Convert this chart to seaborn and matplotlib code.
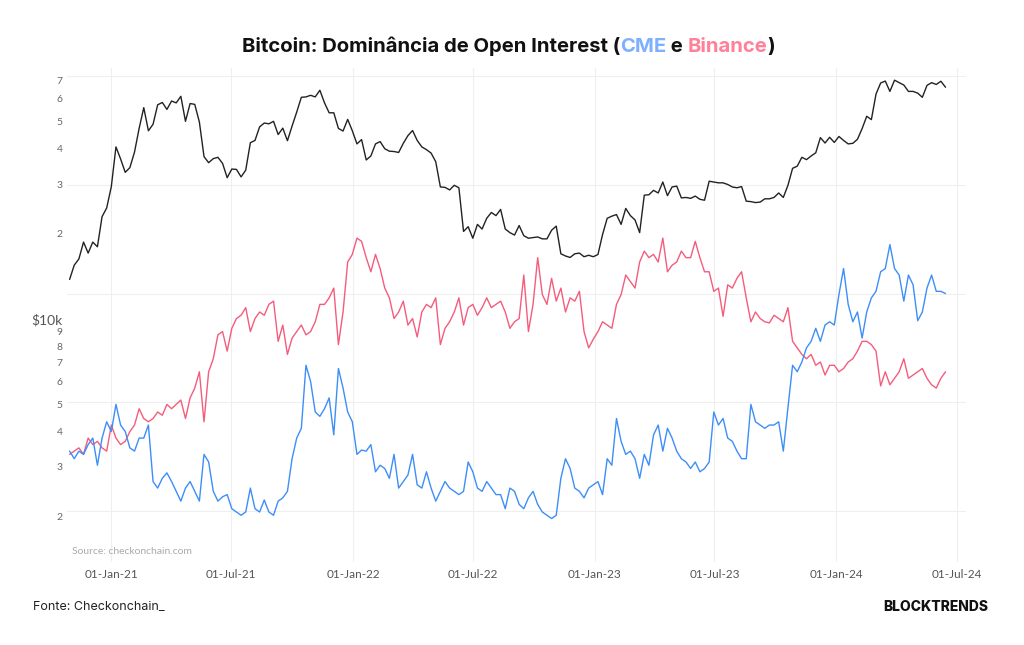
import pandas as pd
import numpy as np
import seaborn as sns
import matplotlib.pyplot as plt
import matplotlib.dates as mdates

# semanal, a partir de 30-Oct-2020
datas = pd.date_range('2020-10-30', periods=190, freq='7D')

# preco do BTC em USD
preco_btc = [
    13800, 15500, 16300, 18700, 17100, 18700, 18000, 23000, 24700, 29400,
    40600, 36800, 33000, 34300, 38900, 47200, 55900, 46300, 48800, 57200,
    58300, 55100, 59000, 58100, 61300, 50000, 57800, 57400, 49700, 37500,
    35700, 36900, 37300, 35500, 31600, 33900, 33800, 31800, 33600, 42000,
    42800, 47800, 49300, 49000, 50000, 44900, 47300, 42700, 48100, 53900,
    60800, 61000, 61800, 61000, 64400, 58100, 53600, 53600, 47200, 46200,
    50800, 46300, 41600, 43100, 36500, 37700, 41600, 42400, 40000, 39200,
    39100, 38800, 41800, 44500, 46400, 42800, 40600, 39700, 38600, 36000,
    29300, 29200, 28600, 29700, 29100, 20400, 21200, 19300, 21600, 20800,
    22700, 23800, 23200, 24400, 20800, 20200, 19800, 21400, 19700, 19300,
    19400, 19500, 19200, 19200, 20600, 21300, 17000, 16700, 16500, 17000,
    17100, 16600, 16800, 16600, 16900, 19900, 22700, 23100, 23400, 21600,
    24600, 23200, 22400, 20200, 27400, 27500, 28500, 27900, 30500, 27300,
    29300, 29500, 26800, 26900, 26700, 27200, 26500, 26300, 30700, 30500,
    30300, 30300, 29900, 29300, 29100, 29400, 26100, 26000, 25800, 25900,
    26600, 26600, 26900, 27900, 26900, 29700, 34100, 34700, 37300, 36600,
    37700, 38700, 43800, 41900, 43900, 42100, 44200, 42800, 41600, 41800,
    43200, 47100, 52100, 50700, 62400, 68300, 69400, 63800, 69900, 68500,
    67200, 63800, 63800, 62900, 60800, 67000, 68500, 67500, 69300, 66000,
]

# dominancia de open interest (%)
dom_cme = [
    15.5, 14.8, 15.5, 15.2, 16.1, 16.7, 14.2, 16.7, 18.2, 17.3,
    19.8, 17.9, 17.3, 15.8, 15.5, 16.7, 16.7, 17.9, 12.7, 12.1,
    13.0, 13.5, 12.7, 11.8, 10.9, 12.1, 12.7, 11.8, 10.9, 15.2,
    14.5, 11.8, 10.9, 11.3, 11.5, 10.2, 9.9, 9.6, 9.9, 12.1,
    10.2, 9.9, 11.0, 9.9, 9.6, 10.9, 11.2, 11.8, 14.8, 16.7,
    17.6, 23.4, 21.9, 19.1, 18.7, 19.4, 20.4, 17.0, 23.1, 21.3,
    19.1, 18.2, 15.2, 15.6, 15.5, 16.1, 13.6, 14.2, 13.9, 13.0,
    15.2, 12.1, 12.7, 13.3, 15.2, 12.4, 12.1, 13.6, 12.1, 10.9,
    11.8, 12.7, 12.1, 11.8, 11.5, 11.8, 14.5, 13.6, 12.1, 11.8,
    12.7, 12.1, 11.5, 11.5, 10.2, 12.1, 11.8, 10.6, 10.2, 11.2,
    11.8, 10.6, 9.9, 9.6, 9.3, 9.6, 13.0, 14.8, 13.9, 12.1,
    11.8, 11.2, 12.1, 12.4, 12.7, 11.5, 14.8, 14.2, 18.5, 16.4,
    15.2, 15.5, 14.8, 13.0, 15.2, 14.2, 17.0, 17.9, 15.5, 17.6,
    16.7, 15.5, 14.8, 14.5, 13.9, 14.5, 13.6, 13.9, 14.5, 19.1,
    17.9, 18.5, 16.7, 16.4, 15.5, 14.8, 14.8, 19.8, 18.2, 17.9,
    17.6, 17.9, 17.9, 18.2, 15.5, 19.5, 23.4, 22.8, 23.7, 25.0,
    25.6, 26.8, 25.6, 27.1, 27.4, 27.1, 29.9, 32.3, 29.0, 27.4,
    28.3, 25.9, 28.3, 29.6, 30.2, 32.0, 32.3, 34.5, 32.3, 31.7,
    29.3, 31.7, 30.8, 27.5, 28.3, 30.5, 31.7, 30.2, 30.2, 30.0,
]

dom_binance = [
    15.2, 15.5, 15.8, 15.2, 16.7, 16.1, 16.4, 15.8, 15.5, 17.9,
    16.7, 16.1, 16.4, 17.3, 17.9, 19.4, 18.5, 18.2, 18.5, 19.1,
    18.8, 19.8, 19.4, 19.8, 20.2, 18.5, 20.4, 21.3, 22.8, 18.2,
    22.8, 24.0, 26.2, 26.5, 24.7, 26.8, 27.7, 28.0, 28.7, 26.5,
    27.7, 28.3, 28.0, 29.0, 29.3, 25.6, 27.1, 24.4, 25.9, 26.5,
    27.1, 26.2, 26.5, 27.4, 29.0, 29.0, 29.6, 30.5, 25.3, 28.3,
    32.9, 33.6, 35.1, 34.8, 33.3, 32.0, 33.6, 32.3, 30.5, 29.6,
    27.7, 28.3, 29.3, 27.1, 27.7, 26.0, 28.3, 29.0, 28.7, 29.6,
    25.3, 26.8, 27.4, 28.3, 29.6, 27.1, 28.7, 29.0, 28.0, 28.7,
    29.6, 28.7, 29.0, 29.3, 28.3, 26.8, 27.4, 27.7, 31.7, 26.5,
    29.0, 33.3, 29.9, 29.0, 31.4, 29.3, 30.5, 28.3, 29.6, 29.3,
    30.2, 26.5, 25.0, 25.8, 26.5, 27.4, 27.1, 26.8, 29.0, 29.9,
    31.7, 31.1, 30.5, 32.9, 33.9, 33.3, 33.6, 32.9, 35.1, 32.0,
    32.6, 32.9, 33.9, 33.3, 33.3, 34.8, 33.3, 32.0, 32.0, 30.2,
    30.5, 27.9, 30.8, 30.5, 31.4, 32.0, 29.6, 27.4, 28.3, 27.7,
    27.4, 27.3, 28.0, 27.7, 27.4, 28.7, 25.6, 25.0, 24.4, 24.0,
    24.4, 23.4, 23.7, 22.5, 23.4, 23.4, 22.8, 23.1, 23.7, 24.0,
    24.7, 25.6, 25.6, 25.3, 24.7, 21.5, 22.8, 21.6, 22.2, 22.8,
    24.0, 22.2, 22.5, 22.8, 23.1, 22.2, 21.6, 21.3, 22.2, 22.8,
]

# eixo de preco (log)
ticks_preco = [2000, 3000, 4000, 5000, 6000, 7000, 8000, 9000,
               10000, 20000, 30000, 40000, 50000, 60000, 70000]
labels_preco = ['2', '3', '4', '5', '6', '7', '8', '9',
                '$10k', '2', '3', '4', '5', '6', '7']

titulo = ['Bitcoin: Dominância de Open Interest (', 'CME', ' e ', 'Binance', ')']
cores_titulo = ['#111111', '#7fb0ff', '#111111', '#ff8099', '#111111']

cor_cme = '#3d8ef8'
cor_binance = '#f45c7c'
cor_preco = '#222222'

df = pd.DataFrame({'data': datas, 'preco': preco_btc,
                   'cme': dom_cme, 'binance': dom_binance})

sns.set_theme(style='white')
plt.rcParams['font.family'] = ['Lato', 'DejaVu Sans']

fig = plt.figure(figsize=(10.24, 6.45), dpi=100)
ax = fig.add_axes([0.0654, 0.1287, 0.878, 0.7659])

# dominancia no eixo principal (sem labels), grid horizontal vem dele
sns.lineplot(data=df, x='data', y='binance', ax=ax, color=cor_binance, linewidth=1.0)
sns.lineplot(data=df, x='data', y='cme', ax=ax, color=cor_cme, linewidth=1.0)
ax.set_ylim(5.3, 50.75)
ax.set_yticks([10, 20, 30, 40, 50])
ax.grid(True, color='#efefef', linewidth=0.8)
ax.set_xlabel('')
ax.set_ylabel('')

ax.set_xlim(pd.Timestamp('2020-10-26'), pd.Timestamp('2024-07-15'))
ax.xaxis.set_major_locator(mdates.MonthLocator(bymonth=[1, 7]))
ax.xaxis.set_major_formatter(mdates.DateFormatter('%d-%b-%y'))
ax.tick_params(axis='x', length=0, pad=5, labelsize=8.5, labelcolor='#555555')

# preco no eixo gemeo, labels na esquerda
pax = ax.twinx()
sns.lineplot(data=df, x='data', y='preco', ax=pax, color=cor_preco, linewidth=1.0)
pax.set_yscale('log')
pax.set_ylim(1382, 77200)
pax.yaxis.tick_left()
pax.set_yticks(ticks_preco)
pax.set_yticklabels(labels_preco)
pax.yaxis.set_minor_locator(plt.NullLocator())
pax.tick_params(axis='y', length=0, pad=3, labelsize=7.5, labelcolor='#666666')
for lbl in pax.get_yticklabels():
    if lbl.get_text() == '$10k':
        lbl.set_fontsize(10)
        lbl.set_color('#555555')
pax.set_ylabel('')
pax.grid(False)

# twinx liga de novo os ticks do eixo principal
ax.tick_params(axis='y', left=False, labelleft=False, right=False, labelright=False, length=0)

for a in (ax, pax):
    for s in a.spines.values():
        s.set_visible(False)

ax.text(0.006, 0.012, 'Source: checkonchain.com', transform=ax.transAxes,
        fontsize=7.5, color='#aaaaaa', va='bottom')

# titulo em partes coloridas
t = fig.text(0.236, 0.920, titulo[0], fontsize=14.6, fontweight='bold',
             family=['Inter', 'DejaVu Sans'], color=cores_titulo[0], va='baseline')
for parte, cor in zip(titulo[1:], cores_titulo[1:]):
    t = ax.annotate(parte, xy=(1, 0), xycoords=t, va='bottom', ha='left',
                    fontsize=14.6, fontweight='bold', family=['Inter', 'DejaVu Sans'],
                    color=cor, annotation_clip=False)

fig.text(0.032, 0.059, 'Fonte: Checkonchain_', fontsize=9,
         family=['Inter', 'DejaVu Sans'], color='#222222', va='center')
fig.text(0.965, 0.059, 'BLOCKTRENDS', fontsize=10, fontweight='heavy',
         family=['Inter', 'DejaVu Sans'], color='#111111', va='center', ha='right')

fig.savefig('out.png', dpi=100)
